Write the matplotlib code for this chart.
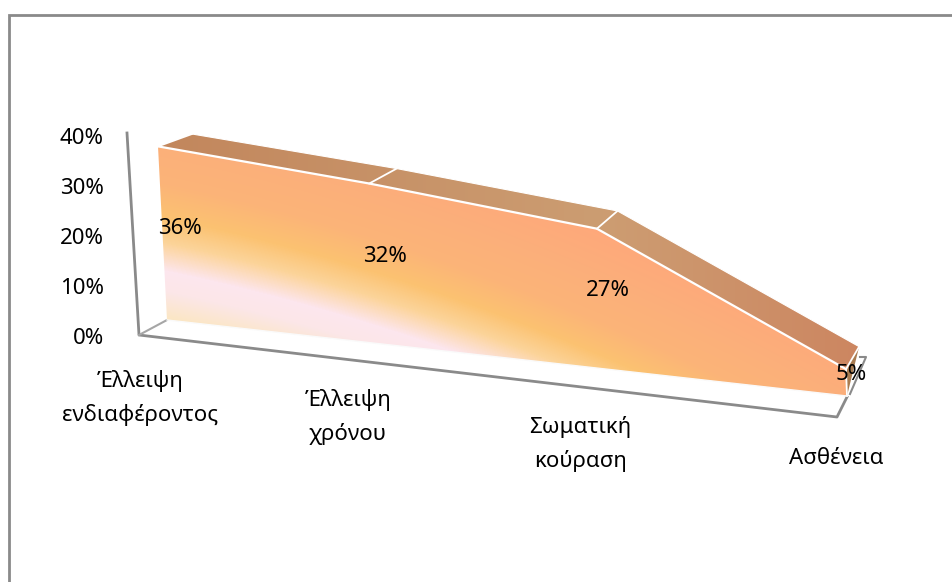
import numpy as np
import matplotlib
matplotlib.use("Agg")
import matplotlib.pyplot as plt
from matplotlib.colors import LinearSegmentedColormap
from matplotlib.patches import Polygon

# values
categories = ["Έλλειψη\nενδιαφέροντος", "Έλλειψη\nχρόνου", "Σωματική\nκούραση", "Ασθένεια"]
values = [36, 32, 27, 5]
value_ticks = [0, 10, 20, 30, 40]

plt.rcParams['font.family'] = ['Noto Sans', 'DejaVu Sans']


def homography(corners):
    # maps (u, v) in the unit square to pixels
    src = [(0, 0), (1, 0), (0, 1), (1, 1)]
    A = []
    b = []
    for (u, v), (x, y) in zip(src, corners):
        A.append([u, v, 1, 0, 0, 0, -u * x, -v * x])
        A.append([0, 0, 0, u, v, 1, -u * y, -v * y])
        b += [x, y]
    h = np.linalg.solve(np.array(A, float), np.array(b, float))
    return np.append(h, 1).reshape(3, 3)


front = homography([(167, 320), (847, 396), (157, 127), (839, 180)])
back = homography([(201, 304), (860, 373), (191, 115), (853, 161)])


def project(H, i, v):
    p = H @ np.array([i / (len(values) - 1), v / value_ticks[-1], 1.0])
    return p[0] / p[2], p[1] / p[2]


fig = plt.figure(figsize=(9.52, 5.82), dpi=100)
ax = fig.add_axes([0, 0, 1, 1])
ax.set_xlim(0, 952)
ax.set_ylim(582, 0)
ax.axis("off")

# chart border, the right and bottom sides are cut off
grey = "#8a8a8a"
ax.plot([9, 9, 952], [582, 14.5, 14.5], color=grey, lw=2, solid_joinstyle="miter")

# axis lines
ax.plot([127, 139, 837, 847], [133, 335, 417, 397], color=grey, lw=2)
ax.plot([139, 167], [335, 320], color="#a6a6a6", lw=1.5)
ax.plot([860, 866, 850], [357, 357, 394], color=grey, lw=1.5)

# front face with the diagonal gradient
top_front = [project(front, i, v) for i, v in enumerate(values)]
bottom_front = [project(front, i, 0) for i in range(len(values))]
top_back = [project(back, i, v) for i, v in enumerate(values)]

stops = [(0.0, "#FFA77A"), (0.28, "#FBB07A"), (0.43, "#FBB478"), (0.57, "#FBC271"),
         (0.68, "#FCD49A"), (0.80, "#FCE6EE"), (0.885, "#FCE6E8"), (1.0, "#FBE6C4")]
face_cmap = LinearSegmentedColormap.from_list("face", stops)
xx, yy = np.meshgrid(np.arange(150, 870), np.arange(120, 410))
t = (yy - 0.2 * xx - 0.00025 * (xx - 150) ** 2 - 50) / 235
im = ax.imshow(t, extent=(150, 870, 410, 120), cmap=face_cmap, vmin=0, vmax=1,
               interpolation="bilinear", aspect="auto", zorder=2)
face = Polygon(top_front + bottom_front[::-1], closed=True, transform=ax.transData,
               fc="none", ec="none")
ax.add_patch(face)
im.set_clip_path(face)

# top strip of the area
strip_cmap = LinearSegmentedColormap.from_list(
    "strip", [(0.0, "#C2865C"), (0.63, "#CC9D72"), (1.0, "#CC8560")])
strip_x = np.arange(150, 870)[None, :]
im2 = ax.imshow((strip_x - 150) / 720, extent=(150, 870, 410, 120), cmap=strip_cmap,
                vmin=0, vmax=1, aspect="auto", zorder=2)
strip = Polygon(top_front + top_back[::-1], closed=True, transform=ax.transData,
                fc="none", ec="none")
ax.add_patch(strip)
im2.set_clip_path(strip)
ax.set_xlim(0, 952)
ax.set_ylim(582, 0)

# right end of the area
ax.add_patch(Polygon([top_front[-1], top_back[-1], (848, 392), bottom_front[-1]],
                     closed=True, fc="#A87B50", ec="none", zorder=2))

# white edges
ax.plot(*zip(*top_front), color="white", lw=1.6, zorder=3)
ax.plot(*zip(*top_back), color="white", lw=0.8, zorder=3)
for a, b in zip(top_front, top_back):
    ax.plot([a[0], b[0]], [a[1], b[1]], color="white", lw=1.3, zorder=3)
ax.plot(*zip(top_front[-1], bottom_front[-1]), color="white", lw=1.3, zorder=3)
ax.plot(*zip(*bottom_front), color="#fafafa", lw=1, zorder=3)

# value axis labels
for v in value_ticks:
    ax.text(104, 339 - v * 5, f"{v}%", ha="right", va="center", fontsize=16, color="black")

# data labels
label_x = [180, 385, 608, 851]
label_y = [229, 257, 291, 374]
for x, y, v in zip(label_x, label_y, values):
    ax.text(x, y, f"{v}%", ha="center", va="center", fontsize=16, color="black", zorder=4)

# category labels
cat_x = [140, 348, 580, 836]
cat_y = [398, 417, 444, 458]
for x, y, c in zip(cat_x, cat_y, categories):
    ax.text(x, y, c, ha="center", va="center", fontsize=16, color="black", linespacing=1.7)

fig.savefig("out.png", dpi=100)
